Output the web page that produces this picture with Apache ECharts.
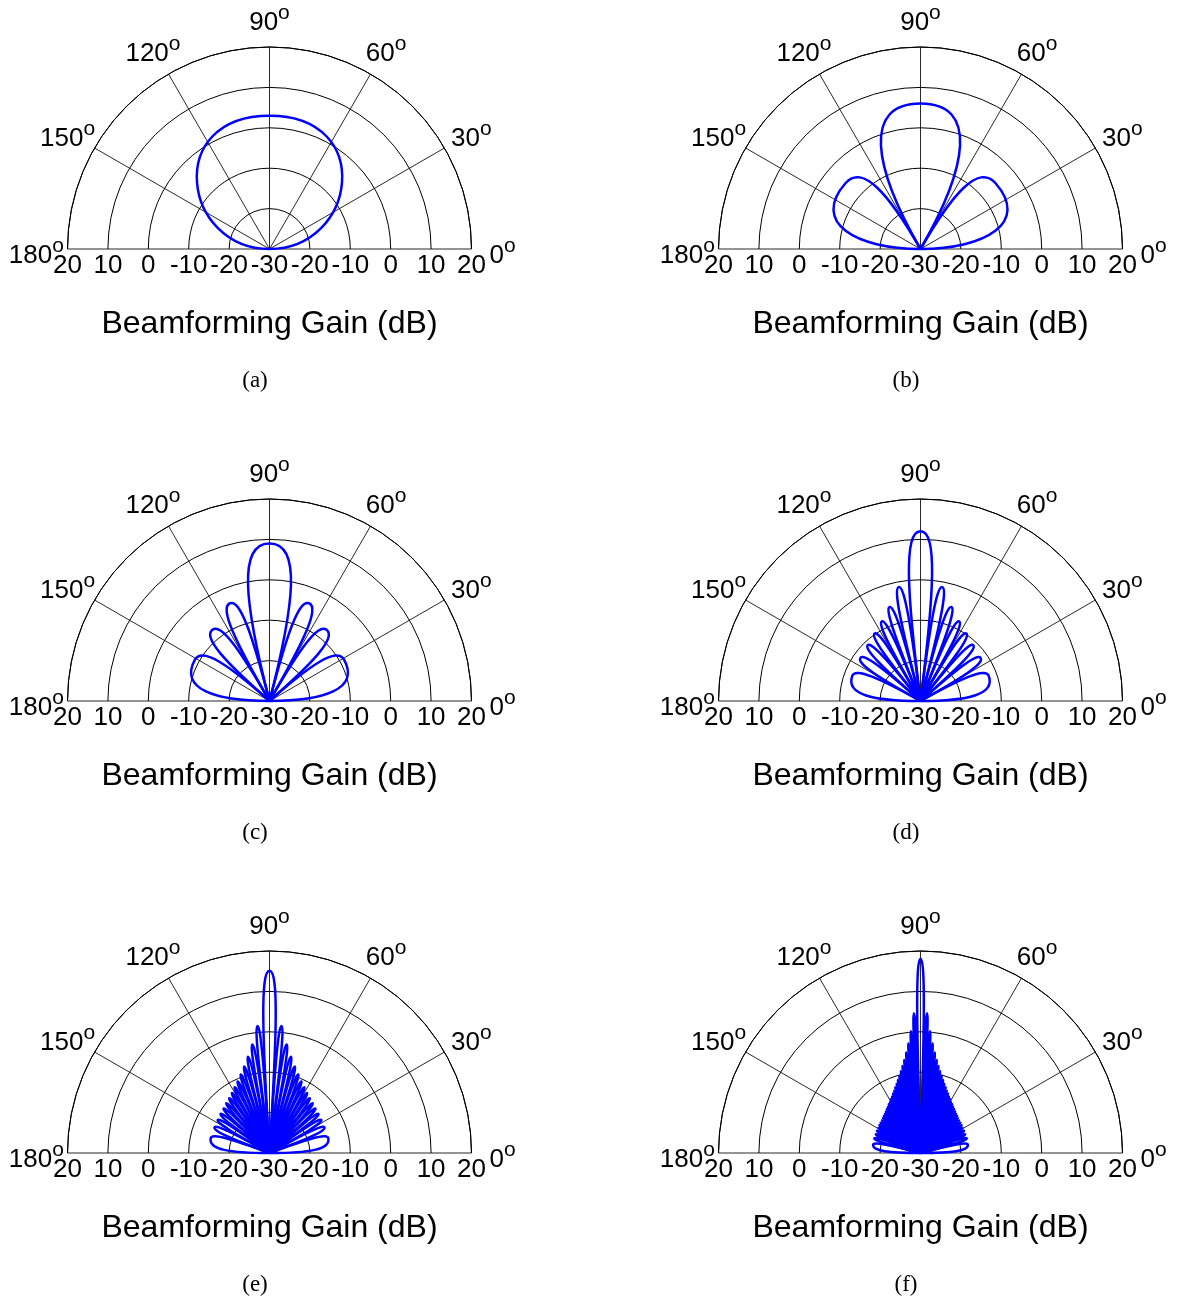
<!DOCTYPE html>
<html>
<head>
<meta charset="utf-8">
<script src="https://cdn.jsdelivr.net/npm/echarts@6/dist/echarts.min.js"></script>
<style>html,body{margin:0;padding:0;background:#fff}#chart{width:1177px;height:1303px}</style>
</head>
<body>
<div id="chart"></div>
<script>
// ---------------- data ----------------
const panelLabels = ['(a)', '(b)', '(c)', '(d)', '(e)', '(f)'];
const angleTicks = [0, 30, 60, 90, 120, 150, 180];
const radialTickLabels = ['20', '10', '0', '-10', '-20', '-30', '-20', '-10', '0', '10', '20'];
const axisTitle = 'Beamforming Gain (dB)';

// each lobe: null angle before it, peak angle, null angle after it, peak gain (dB)
// (a)
const nullsA = [0, 180];
const peakAngA = [90];
const peakGainA = [3.0];
// (b)
const nullsB = [0, 60, 120, 180];
const peakAngB = [41.4, 90, 138.6];
const peakGainB = [-5.3, 6.0, -5.3];
// (c)
const nullsC = [0, 41.4, 60, 75.5, 104.5, 120, 138.6, 180];
const peakAngC = [29.0, 51.3, 68.0, 90, 112.0, 128.7, 151.0];
const peakGainC = [-8.9, -7.4, -3.9, 9.0, -3.9, -7.4, -8.9];
// (d)
const nullsD = [0, 29.0, 41.4, 51.3, 60, 68.0, 75.5, 82.8, 97.2, 104.5, 112.0, 120, 128.7, 138.6, 151.0, 180];
const peakAngD = [20.4, 35.7, 46.6, 55.8, 64.1, 71.8, 79.2, 90, 100.8, 108.2, 115.9, 124.2, 133.4, 144.3, 159.6];
const peakGainD = [-12.0, -11.7, -11.0, -9.8, -8.1, -5.5, -1.3, 12.0, -1.3, -5.5, -8.1, -9.8, -11.0, -11.7, -12.0];
// (e)
const nullsE = [0, 20.4, 29.0, 35.7, 41.4, 46.6, 51.3, 55.8, 60, 64.1, 68.0, 71.8, 75.5, 79.2, 82.8, 86.4,
  93.6, 97.2, 100.8, 104.5, 108.2, 112.0, 115.9, 120, 124.2, 128.7, 133.4, 138.6, 144.3, 151.0, 159.6, 180];
const peakAngE = [14.4, 25.0, 32.5, 38.6, 44.0, 49.0, 53.6, 57.9, 62.0, 66.0, 69.9, 73.7, 77.4, 81.0, 84.6, 90,
  95.4, 99.0, 102.6, 106.3, 110.1, 114.0, 118.0, 122.1, 126.4, 131.0, 136.0, 141.4, 147.5, 155.0, 165.6];
const peakGainE = [-15.0, -15.0, -14.8, -14.5, -14.2, -13.7, -13.2, -12.5, -11.6, -10.6, -9.3, -7.7, -5.6, -2.8, 1.6, 15.1,
  1.6, -2.8, -5.6, -7.7, -9.3, -10.6, -11.6, -12.5, -13.2, -13.7, -14.2, -14.5, -14.8, -15.0, -15.0];
// (f)
const nullsF = [0, 14.4, 20.4, 25.0, 29.0, 32.5, 35.7, 38.6, 41.4, 44.0, 46.6, 49.0, 51.3, 53.6, 55.8, 57.9,
  60, 62.0, 64.1, 66.0, 68.0, 69.9, 71.8, 73.7, 75.5, 77.4, 79.2, 81.0, 82.8, 84.6, 86.4, 88.2,
  91.8, 93.6, 95.4, 97.2, 99.0, 100.8, 102.6, 104.5, 106.3, 108.2, 110.1, 112.0, 114.0, 115.9, 118.0, 120,
  122.1, 124.2, 126.4, 128.7, 131.0, 133.4, 136.0, 138.6, 141.4, 144.3, 147.5, 151.0, 155.0, 159.6, 165.6, 180];
const peakAngF = [10.1, 17.6, 22.8, 27.0, 30.8, 34.1, 37.2, 40.0, 42.8, 45.3, 47.8, 50.2, 52.5, 54.7, 56.9, 59.0,
  61.0, 63.1, 65.1, 67.0, 68.9, 70.9, 72.7, 74.6, 76.5, 78.3, 80.1, 81.9, 83.7, 85.5, 87.3, 90,
  92.7, 94.5, 96.3, 98.1, 99.9, 101.7, 103.5, 105.4, 107.3, 109.1, 111.1, 113.0, 114.9, 116.9, 119.0,
  121.0, 123.1, 125.3, 127.5, 129.8, 132.2, 134.7, 137.2, 140.0, 142.8, 145.9, 149.2, 153.0, 157.2, 162.4, 169.9];
const peakGainF = [-18.1, -18.0, -18.0, -17.9, -17.9, -17.7, -17.6, -17.5, -17.3, -17.1, -16.9, -16.6, -16.3, -16.0, -15.6, -15.3,
  -14.8, -14.4, -13.8, -13.3, -12.6, -11.9, -11.1, -10.2, -9.2, -8.0, -6.6, -4.9, -2.7, 0.2, 4.6, 18.1,
  4.6, 0.2, -2.7, -4.9, -6.6, -8.0, -9.2, -10.2, -11.1, -11.9, -12.6, -13.3, -13.8, -14.4, -14.8,
  -15.3, -15.6, -16.0, -16.3, -16.6, -16.9, -17.1, -17.3, -17.5, -17.6, -17.7, -17.9, -17.9, -18.0, -18.0, -18.1];

const panels = [
  [nullsA, peakAngA, peakGainA], [nullsB, peakAngB, peakGainB],
  [nullsC, peakAngC, peakGainC], [nullsD, peakAngD, peakGainD],
  [nullsE, peakAngE, peakGainE], [nullsF, peakAngF, peakGainF]
];

// ---------------- layout / style ----------------
const R_MIN = -30, R_MAX = 20;
const LABEL_R = 27.7;            // radius value where angle labels sit
const COLS = [269.5, 920.5];
const ROWS = [249, 701, 1153];
const RADIUS = 202;
const CAP_X = [255, 906];
const CAP_Y = [381, 833, 1285];
const SANS = 'Liberation Sans';
const SERIF = 'Liberation Serif';
const BLUE = '#0000ff';
const KA = 0.65, KB = 0.8;

function lobeItem(params, api) {
  const g = api.value(0), tm = api.value(1), t1 = api.value(2), t2 = api.value(3);
  const C = api.coord([R_MIN, tm]);
  const P = api.coord([g, tm]);
  const rx = P[0] - C[0], ry = P[1] - C[1];
  const Rp = Math.hypot(rx, ry);
  if (Rp < 0.5) return null;
  const ur = [rx / Rp, ry / Rp];
  function side(t) {
    const E = api.coord([R_MAX, t]);
    let ux = E[0] - C[0], uy = E[1] - C[1];
    const L = Math.hypot(ux, uy); ux /= L; uy /= L;
    const cw = ux * ur[0] + uy * ur[1];
    let vx = ux - cw * ur[0], vy = uy - cw * ur[1];
    const sw = Math.hypot(vx, vy) || 1e-6;
    vx /= sw; vy /= sw;
    return {
      a: [C[0] + KA * Rp * ux, C[1] + KA * Rp * uy],
      b: [P[0] + KB * Rp * sw * vx, P[1] + KB * Rp * sw * vy]
    };
  }
  const s1 = side(t1), s2 = side(t2);
  const f = v => v.toFixed(2);
  const d = 'M' + f(C[0]) + ' ' + f(C[1]) +
    ' C' + f(s1.a[0]) + ' ' + f(s1.a[1]) + ' ' + f(s1.b[0]) + ' ' + f(s1.b[1]) + ' ' + f(P[0]) + ' ' + f(P[1]) +
    ' C' + f(s2.b[0]) + ' ' + f(s2.b[1]) + ' ' + f(s2.a[0]) + ' ' + f(s2.a[1]) + ' ' + f(C[0]) + ' ' + f(C[1]);
  return {
    type: 'path',
    shape: { pathData: d },
    style: { fill: 'none', stroke: BLUE, lineWidth: 2.5, lineJoin: 'round' },
    silent: true
  };
}

const polar = [], angleAxis = [], radiusAxis = [], grid = [], xAxis = [], yAxis = [], series = [], graphics = [];

panels.forEach(function (p, i) {
  const col = i % 2, row = Math.floor(i / 2);
  const cx = COLS[col], cy = ROWS[row];
  polar.push({ center: [cx, cy], radius: RADIUS });
  angleAxis.push({
    polarIndex: i, type: 'value', min: 0, max: 180, interval: 30,
    startAngle: 0, endAngle: 180, clockwise: false,
    axisLine: { show: true, lineStyle: { color: '#000', width: 1 } },
    axisTick: { show: false }, axisLabel: { show: false },
    splitLine: { show: true, lineStyle: { color: '#111', width: 0.9 } },
    splitArea: { show: false }
  });
  radiusAxis.push({
    polarIndex: i, type: 'value', min: R_MIN, max: R_MAX, interval: 10,
    axisLine: { show: false }, axisTick: { show: false }, axisLabel: { show: false },
    splitLine: { show: true, lineStyle: { color: '#000', width: 1 } },
    splitArea: { show: false }
  });
  grid.push({ left: cx - RADIUS, top: cy - 1, width: 2 * RADIUS, height: 1, containLabel: false });
  xAxis.push({
    gridIndex: i, type: 'category', data: radialTickLabels, boundaryGap: false,
    axisLine: { show: false }, axisTick: { show: false }, splitLine: { show: false },
    axisLabel: { interval: 0, margin: 4, fontSize: 26, color: '#000', fontFamily: SANS },
    name: axisTitle, nameLocation: 'middle', nameGap: 59,
    nameTextStyle: { fontSize: 32, color: '#000', fontFamily: SANS }
  });
  yAxis.push({ gridIndex: i, type: 'value', show: false });

  const nulls = p[0], ang = p[1], gain = p[2];
  const lobes = gain.map(function (g, k) { return [g, ang[k], nulls[k], nulls[k + 1]]; });
  series.push({
    type: 'custom', coordinateSystem: 'polar', polarIndex: i,
    data: lobes, renderItem: lobeItem, silent: true, z: 5
  });
  series.push({
    type: 'scatter', coordinateSystem: 'polar', polarIndex: i, silent: true, clip: false,
    symbol: 'circle', symbolSize: 1, itemStyle: { color: 'rgba(255,255,255,0)', opacity: 1 },
    data: angleTicks.map(function (a) { return [LABEL_R, a]; }),
    label: {
      show: true, position: 'inside', color: '#000', opacity: 1, padding: [6, 0, 0, 0],
      formatter: function (q) { return '{d|' + q.value[1] + '}{s|o}'; },
      rich: {
        d: { fontSize: 26, fontFamily: SANS, color: '#000', verticalAlign: 'bottom' },
        s: { fontSize: 21, fontFamily: SANS, color: '#000', padding: [0, 0, 12, 0], verticalAlign: 'bottom' }
      }
    },
    emphasis: { disabled: true },
    z: 6
  });
  graphics.push({
    type: 'text', x: CAP_X[col], y: CAP_Y[row], silent: true,
    style: {
      text: panelLabels[i], fontSize: 23, fontFamily: SERIF, fill: '#000',
      align: 'center', verticalAlign: 'middle', textAlign: 'center', textVerticalAlign: 'middle'
    }
  });
});

const chart = echarts.init(document.getElementById('chart'), null, { renderer: 'canvas' });
chart.setOption({
  animation: false,
  backgroundColor: '#fff',
  textStyle: { fontFamily: SANS },
  polar: polar, angleAxis: angleAxis, radiusAxis: radiusAxis,
  grid: grid, xAxis: xAxis, yAxis: yAxis,
  series: series,
  graphic: graphics
});
</script>
</body>
</html>
